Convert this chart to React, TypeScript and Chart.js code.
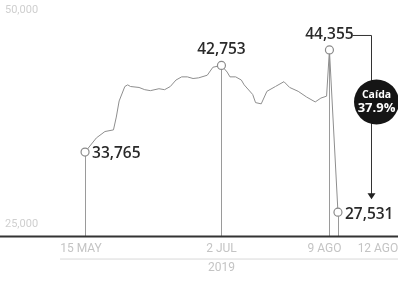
import React, { useEffect, useRef } from "react";
import { Chart, registerables } from "chart.js";
Chart.register(...registerables);

// Merval index, calendar days counted from 15 May 2019
const days = [0,4,7,10,11,12,14,15,16,19,21,23,26,28,30,32,34,36,38,40,43,45,48,50,51,53,55,56,59,60,62,64,67,70,72,75,78,81,83,85,86,89];
const values = [33765,35235,35895,36065,37395,39065,40565,40735,40565,40465,40235,40135,40335,40235,40565,41235,41565,41565,41395,41465,41735,42565,42753,42065,41565,41565,41235,40735,39735,38895,38765,40065,40565,41065,40465,40065,39465,38965,39365,39565,44355,27531];

const keyDays = [0, 48, 86, 89];
const xTickDays = [0, 48, 86, 89];
const xTickLabels = ["15 MAY", "2 JUL", "9 AGO", "12 AGO"];
const yearLabel = "2019";
const yTickValues = [25000, 50000];
const yTickLabels = ["25,000", "50,000"];
const dropTitle = "Caída";
const dropPct = "37.9%";

const fmt = (v: number) => v.toLocaleString("en-US");

export default function App() {
  const ref = useRef<HTMLCanvasElement | null>(null);
  useEffect(() => {
    if (!ref.current) return;
    const overlay = {
      id: "overlay",
      beforeDatasetsDraw(chart: any) {
        const { ctx } = chart;
        const xs = chart.scales.x;
        const ys = chart.scales.y;
        const base = ys.getPixelForValue(25000);
        ctx.save();
        ctx.strokeStyle = "#9a9a9a";
        ctx.lineWidth = 1;
        keyDays.forEach((d) => {
          const i = days.indexOf(d);
          const px = Math.round(xs.getPixelForValue(d)) + 0.5;
          const py = ys.getPixelForValue(values[i]);
          ctx.beginPath();
          ctx.moveTo(px, py);
          ctx.lineTo(px, base);
          ctx.stroke();
        });
        ctx.strokeStyle = "#333";
        ctx.lineWidth = 2;
        ctx.beginPath();
        ctx.moveTo(0, base);
        ctx.lineTo(chart.width, base);
        ctx.stroke();
        ctx.strokeStyle = "#d8d8d8";
        ctx.lineWidth = 1;
        ctx.beginPath();
        ctx.moveTo(xs.getPixelForValue(0) - 25, base + 22.5);
        ctx.lineTo(chart.width, base + 22.5);
        ctx.stroke();
        ctx.restore();
      },
      afterDatasetsDraw(chart: any) {
        const { ctx } = chart;
        const xs = chart.scales.x;
        const ys = chart.scales.y;
        const base = ys.getPixelForValue(25000);
        ctx.save();
        ctx.fillStyle = "#cfcfcf";
        ctx.font = "11px 'Roboto'";
        ctx.textAlign = "left";
        ctx.textBaseline = "middle";
        yTickValues.forEach((v, i) => {
          const y = Math.max(ys.getPixelForValue(v) - 12, 10);
          ctx.fillText(yTickLabels[i], 5, y);
        });
        const xOff = [-4, 0, -5, 40];
        ctx.textAlign = "center";
        ctx.fillStyle = "#c4c4c4";
        ctx.font = "12px 'Roboto'";
        xTickDays.forEach((d, i) => {
          ctx.fillText(xTickLabels[i], xs.getPixelForValue(d) + xOff[i], base + 12);
        });
        ctx.fillText(yearLabel, xs.getPixelForValue(48), base + 31);

        ctx.fillStyle = "#2a2a2a";
        ctx.font = "600 15.5px 'Open Sans'";
        const pt = (d: number) => {
          const i = days.indexOf(d);
          return [xs.getPixelForValue(d), ys.getPixelForValue(values[i]), values[i]];
        };
        const [x0, y0, v0] = pt(0);
        ctx.textAlign = "left";
        ctx.fillText(fmt(v0), x0 + 7, y0 + 2);
        const [x1, y1, v1] = pt(48);
        ctx.textAlign = "center";
        ctx.fillText(fmt(v1), x1, y1 - 16);
        const [x2, y2, v2] = pt(86);
        ctx.fillText(fmt(v2), x2, y2 - 15);
        const [x3, y3, v3] = pt(89);
        ctx.textAlign = "left";
        ctx.fillText(fmt(v3), x3 + 7, y3 + 2);

        const ax = Math.round(x3 + 33) + 0.5;
        ctx.strokeStyle = "#333";
        ctx.lineWidth = 1;
        ctx.beginPath();
        ctx.moveTo(x2 + 23, y2 - 14.5);
        ctx.lineTo(ax, y2 - 14.5);
        ctx.lineTo(ax, y3 - 17);
        ctx.stroke();
        ctx.fillStyle = "#222";
        ctx.beginPath();
        ctx.moveTo(ax - 4, y3 - 19);
        ctx.lineTo(ax + 4, y3 - 19);
        ctx.lineTo(ax, y3 - 13);
        ctx.closePath();
        ctx.fill();
        const cx = ax + 5;
        const cy = 102;
        ctx.fillStyle = "#151515";
        ctx.beginPath();
        ctx.arc(cx, cy, 22.5, 0, Math.PI * 2);
        ctx.fill();
        ctx.fillStyle = "#fff";
        ctx.textAlign = "center";
        ctx.font = "bold 10.5px 'Open Sans'";
        ctx.fillText(dropTitle, cx, cy - 7);
        ctx.font = "bold 13px 'Open Sans'";
        ctx.fillText(dropPct, cx, cy + 6);
        ctx.restore();
      },
    };
    const chart = new Chart(ref.current, {
      type: "line",
      data: {
        datasets: [
          {
            data: days.map((d, i) => ({ x: d, y: values[i] })),
            borderColor: "#8e8e8e",
            borderWidth: 1,
            tension: 0,
            pointRadius: days.map((d) => (keyDays.includes(d) ? 4 : 0)),
            pointBackgroundColor: "#fff",
            pointBorderColor: "#8a8a8a",
            pointBorderWidth: 1.2,
          },
        ],
      },
      options: {
        animation: false,
        responsive: false,
        devicePixelRatio: 1,
        layout: { padding: 0 },
        plugins: { legend: { display: false }, tooltip: { enabled: false } },
        scales: {
          x: { type: "linear", display: false, min: -28.1, max: 108.3 },
          y: { type: "linear", display: false, min: 20200, max: 49000 },
        },
      },
      plugins: [overlay],
    });
    return () => chart.destroy();
  }, []);
  return (
    <div style={{ position: "fixed", left: 0, top: 0, width: 398, height: 288, background: "#fff" }}>
      <canvas ref={ref} width={398} height={288} />
    </div>
  );
}
